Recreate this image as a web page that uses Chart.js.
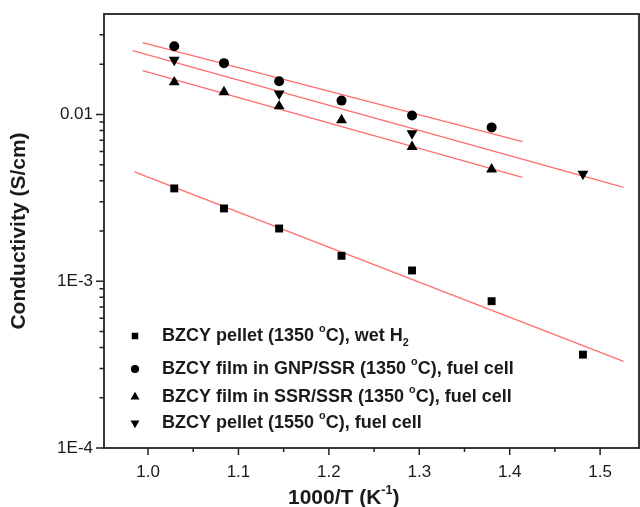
<!DOCTYPE html>
<html>
<head>
    <title>Conductivity vs 1000/T</title>
    <script src="https://cdn.jsdelivr.net/npm/chart.js"></script>
    <style>
        html, body { margin: 0; padding: 0; background: #ffffff; }
        #wrap { width: 640px; height: 507px; }
    </style>
</head>
<body>
    <div id="wrap">
        <canvas id="conductivity-chart" width="640" height="507"></canvas>
    </div>

    <script>
        // values: x = 1000/T (K^-1), y = conductivity (S/cm)
        const xTemps = [1.029, 1.084, 1.145, 1.214, 1.292, 1.380, 1.481];

        const pelletWetH2 = [0.0036, 0.00273, 0.00207, 0.00142, 0.00116, 0.000759, 0.000363];
        const filmGnpSsr = [0.0256, 0.0203, 0.0158, 0.0121, 0.00986, 0.00836];
        const filmSsrSsr = [0.0156, 0.0136, 0.0112, 0.00925, 0.0064, 0.00468];
        const pellet1550X = [1.029, 1.145, 1.292, 1.481];
        const pellet1550 = [0.0212, 0.0133, 0.0077, 0.0044];

        // red linear fits, end points of each line
        const fitWetH2X = [0.985, 1.526];
        const fitWetH2Y = [0.00453, 0.000331];
        const fitGnpX = [0.994, 1.414];
        const fitGnpY = [0.0269, 0.00686];
        const fitSsrX = [0.994, 1.414];
        const fitSsrY = [0.0183, 0.00419];
        const fit1550X = [0.983, 1.526];
        const fit1550Y = [0.0241, 0.00365];

        const legendLabels = [
            'BZCY pellet (1350 °C), wet H₂',
            'BZCY film in GNP/SSR (1350 °C), fuel cell',
            'BZCY film in SSR/SSR (1350 °C), fuel cell',
            'BZCY pellet (1550 °C), fuel cell'
        ];

        const xTickValues = [1.0, 1.1, 1.2, 1.3, 1.4, 1.5];
        const yTickValues = [1e-4, 1e-3, 1e-2];
        const yTickLabels = ['1E-4', '1E-3', '0.01'];

        const FONT = '"Liberation Sans", Arial, sans-serif';
        const INK = '#1a1a1a';
        const AXIS = '#222222';
        const FIT = 'rgb(255, 110, 110)';

        function toXY(xs, ys) {
            return ys.map((v, i) => ({ x: xs[i], y: v }));
        }

        // draw text where ° and ⁻¹ become superscripts and ₂ a subscript
        const special = { '°': ['o', 'sup'], '⁻': ['-', 'sup'], '¹': ['1', 'sup'], '₂': ['2', 'sub'] };
        function drawRich(ctx, str, x, y, size) {
            ctx.textBaseline = 'middle';
            ctx.textAlign = 'left';
            let buf = '';
            const flush = () => {
                if (!buf) return;
                ctx.font = 'bold ' + size + 'px ' + FONT;
                ctx.fillText(buf, x, y);
                x += ctx.measureText(buf).width;
                buf = '';
            };
            for (const ch of str) {
                if (special[ch]) {
                    flush();
                    const [t, mode] = special[ch];
                    ctx.font = 'bold ' + (size * 0.6) + 'px ' + FONT;
                    const dy = mode === 'sup' ? -size * 0.38 : size * 0.38;
                    ctx.fillText(t, x, y + dy);
                    x += ctx.measureText(t).width;
                } else {
                    buf += ch;
                }
            }
            flush();
        }

        function drawMarker(ctx, style, rotation, x, y, r) {
            ctx.beginPath();
            if (style === 'rect') {
                const s = r * Math.SQRT1_2;
                ctx.rect(x - s, y - s, 2 * s, 2 * s);
            } else if (style === 'circle') {
                ctx.arc(x, y, r, 0, Math.PI * 2);
            } else {
                const d = rotation === 180 ? -1 : 1;
                ctx.moveTo(x, y - d * r);
                ctx.lineTo(x + r * 0.866, y + d * r / 2);
                ctx.lineTo(x - r * 0.866, y + d * r / 2);
                ctx.closePath();
            }
            ctx.fill();
        }

        // frame, minor/major ticks, axis titles and the legend inside the plot
        const originLook = {
            id: 'originLook',
            afterDraw(chart) {
                const { ctx, chartArea: a, scales: { x, y } } = chart;
                ctx.save();
                ctx.strokeStyle = AXIS;
                ctx.lineWidth = 1.8;
                ctx.strokeRect(a.left, a.top, a.right - a.left, a.bottom - a.top);

                ctx.lineWidth = 1.5;
                ctx.beginPath();
                for (let k = Math.ceil(x.min * 20); k <= Math.floor(x.max * 20); k++) {
                    const px = x.getPixelForValue(k / 20);
                    if (px < a.left + 2) continue;
                    const len = k % 2 === 0 ? 7 : 4;
                    ctx.moveTo(px, a.bottom);
                    ctx.lineTo(px, a.bottom + len);
                }
                for (let e = -4; e <= -2; e++) {
                    for (let m = 1; m <= 9; m++) {
                        const v = m * Math.pow(10, e);
                        if (v > y.max * 1.0001) continue;
                        const py = y.getPixelForValue(v);
                        if (py < a.top + 2) continue;
                        const len = m === 1 ? 8 : 4.5;
                        ctx.moveTo(a.left, py);
                        ctx.lineTo(a.left - len, py);
                    }
                }
                ctx.stroke();

                // axis titles
                ctx.fillStyle = INK;
                drawRich(ctx, '1000/T (K⁻¹)', 288, 498, 21);
                ctx.save();
                ctx.translate(19, (a.top + a.bottom) / 2);
                ctx.rotate(-Math.PI / 2);
                ctx.font = 'bold 21px ' + FONT;
                ctx.textAlign = 'center';
                ctx.textBaseline = 'middle';
                ctx.fillText('Conductivity (S/cm)', 0, 0);
                ctx.restore();

                // legend
                const rows = [336, 369, 397, 423];
                chart.data.datasets.filter(ds => ds.pointRadius > 0).forEach((ds, i) => {
                    ctx.fillStyle = '#000';
                    drawMarker(ctx, ds.pointStyle, ds.rotation || 0, 135, rows[i], ds.pointRadius * 0.82);
                    ctx.fillStyle = INK;
                    drawRich(ctx, ds.label, 162, rows[i], 18);
                });
                ctx.restore();
            }
        };

        const markerBase = { showLine: false, backgroundColor: '#000', borderColor: '#000', borderWidth: 0 };
        const fitBase = { showLine: true, pointRadius: 0, borderColor: FIT, borderWidth: 1.3, label: '' };

        const ctx = document.getElementById('conductivity-chart').getContext('2d');
        new Chart(ctx, {
            type: 'scatter',
            data: {
                datasets: [
                    Object.assign({}, markerBase, { label: legendLabels[0], data: toXY(xTemps, pelletWetH2), pointStyle: 'rect', pointRadius: 5.6 }),
                    Object.assign({}, markerBase, { label: legendLabels[1], data: toXY(xTemps, filmGnpSsr), pointStyle: 'circle', pointRadius: 5 }),
                    Object.assign({}, markerBase, { label: legendLabels[2], data: toXY(xTemps, filmSsrSsr), pointStyle: 'triangle', pointRadius: 6.3 }),
                    Object.assign({}, markerBase, { label: legendLabels[3], data: toXY(pellet1550X, pellet1550), pointStyle: 'triangle', rotation: 180, pointRadius: 6.3 }),
                    Object.assign({}, fitBase, { data: toXY(fitWetH2X, fitWetH2Y) }),
                    Object.assign({}, fitBase, { data: toXY(fitGnpX, fitGnpY) }),
                    Object.assign({}, fitBase, { data: toXY(fitSsrX, fitSsrY) }),
                    Object.assign({}, fitBase, { data: toXY(fit1550X, fit1550Y) })
                ]
            },
            options: {
                responsive: false,
                animation: false,
                layout: { autoPadding: false, padding: { top: 14, right: 1, left: 0, bottom: 0 } },
                plugins: { legend: { display: false }, tooltip: { enabled: false } },
                scales: {
                    x: {
                        type: 'linear',
                        min: 0.9513,
                        max: 1.543,
                        grid: { display: false, drawTicks: false },
                        border: { display: false },
                        afterBuildTicks: s => { s.ticks = xTickValues.map(v => ({ value: v })); },
                        afterFit: s => {
                            s.height = 59;
                            s.paddingLeft = 0;
                            s.paddingRight = 0;
                        },
                        ticks: {
                            autoSkip: false,
                            maxRotation: 0,
                            padding: 14,
                            color: INK,
                            font: { family: FONT, size: 17 },
                            callback: v => Number(v).toFixed(1)
                        }
                    },
                    y: {
                        type: 'logarithmic',
                        min: 1e-4,
                        max: 0.04,
                        grid: { display: false, drawTicks: false },
                        border: { display: false },
                        afterBuildTicks: s => { s.ticks = yTickValues.map(v => ({ value: v })); },
                        afterFit: s => {
                            s.width = 104;
                            s.paddingTop = 0;
                            s.paddingBottom = 0;
                        },
                        ticks: {
                            autoSkip: false,
                            padding: 11,
                            color: INK,
                            font: { family: FONT, size: 17 },
                            callback: v => {
                                const i = yTickValues.findIndex(t => Math.abs(Math.log10(t) - Math.log10(v)) < 1e-6);
                                return i >= 0 ? yTickLabels[i] : '';
                            }
                        }
                    }
                }
            },
            plugins: [originLook]
        });
    </script>
</body>
</html>
